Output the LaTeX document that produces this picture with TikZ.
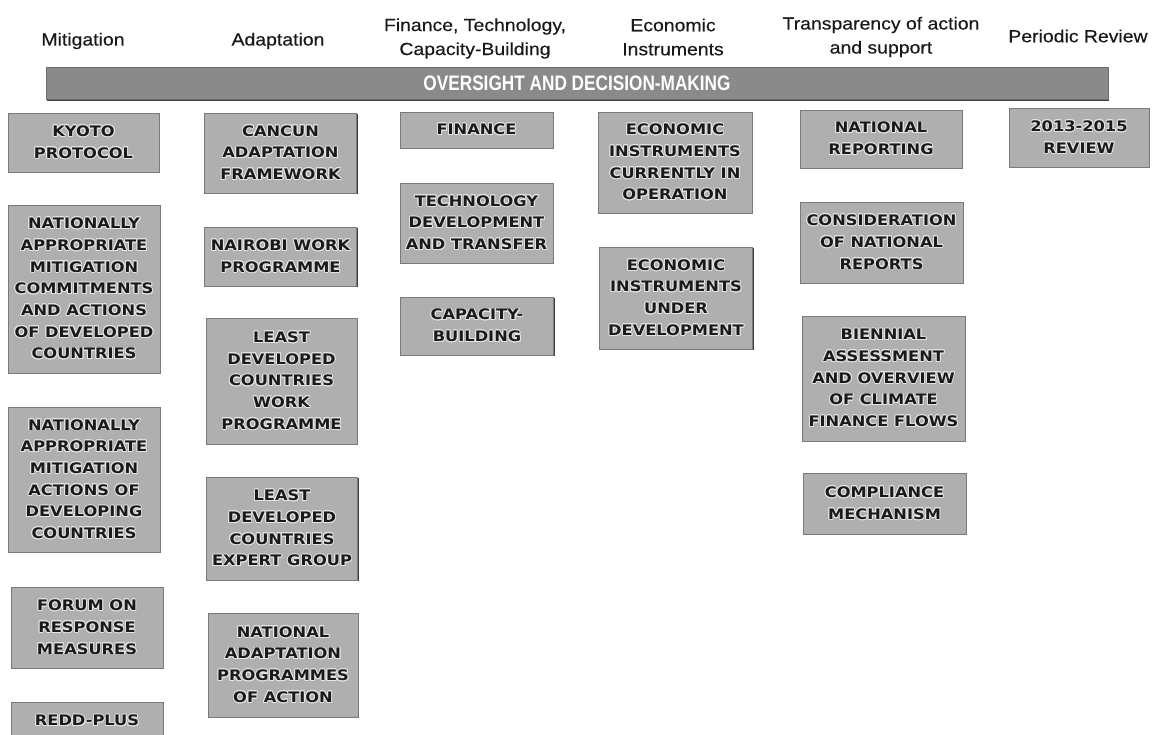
\documentclass[tikz,border=0pt]{standalone}
\usepackage{fontspec}
\setmainfont{Liberation Sans}
\newfontfamily\hdrfont[FakeStretch=1.11,FakeBold=0.3]{Liberation Sans}
\newfontfamily\barfont[FakeStretch=0.82]{Liberation Sans}
\newfontfamily\boxfont[FakeStretch=1.12]{DejaVu Sans}
\usepackage{contour}
\contourlength{0.9pt}
\contournumber{16}
\usetikzlibrary{shadows}

\definecolor{boxfill}{HTML}{AFAFAF}
\definecolor{boxline}{HTML}{7A7A7A}
\definecolor{boxshadow}{HTML}{404040}
\definecolor{barfill}{HTML}{8A8A8A}
\definecolor{boxtext}{HTML}{1A1A1A}
\definecolor{halo}{HTML}{E4E4E4}

\newcommand{\hl}[1]{\contour{halo}{#1}}

\tikzset{
  box/.style={draw=boxline, line width=0.8pt, fill=boxfill, inner sep=0pt,
    align=center, text=boxtext,
    font=\boxfont\bfseries\fontsize{14.5}{21.7}\selectfont,
    drop shadow={shadow xshift=1.3pt, shadow yshift=-1.3pt, fill=boxshadow, opacity=1}},
  hdr/.style={align=center, inner sep=0pt, text=black!90,
    font=\hdrfont\fontsize{17.5}{24}\selectfont},
  barbox/.style={draw=barfill!80!black, line width=0.8pt, fill=barfill, inner sep=0pt,
    text=white, font=\barfont\bfseries\fontsize{21}{24}\selectfont,
    drop shadow={shadow xshift=1.3pt, shadow yshift=-1.5pt, fill=boxshadow, opacity=1}}
}

\begin{document}
\begin{tikzpicture}[x=1pt, y=-1pt]
\useasboundingbox (0,0) rectangle (1157,734);
\fill[white] (0,0) rectangle (1157,734);
\clip (0,0) rectangle (1157,734);

% headers
\node[hdr] (hmit) at (83,41) {Mitigation};
\node[hdr] (hada) at (278,41) {Adaptation};
\node[hdr] (hfin) at (475,38.5) {Finance, Technology,\\Capacity-Building};
\node[hdr] (heco) at (673,37) {Economic\\Instruments};
\node[hdr] (htra) at (881,37) {Transparency of action\\and support};
\node[hdr] (hrev) at (1078,36) {Periodic Review};

% oversight bar
\node[barbox, minimum width=1062pt, minimum height=32pt] (bar) at (577,83) {OVERSIGHT AND DECISION-MAKING};

% Mitigation
\node[box, minimum width=151pt, minimum height=59pt] (kyoto) at (83.5,142.5) {\hl{KYOTO}\\\hl{PROTOCOL}};
\node[box, minimum width=152pt, minimum height=168pt] (namadev) at (84,289) {\hl{NATIONALLY}\\\hl{APPROPRIATE}\\\hl{MITIGATION}\\\hl{COMMITMENTS}\\\hl{AND ACTIONS}\\\hl{OF DEVELOPED}\\\hl{COUNTRIES}};
\node[box, minimum width=152pt, minimum height=145pt] (namading) at (84,479.5) {\hl{NATIONALLY}\\\hl{APPROPRIATE}\\\hl{MITIGATION}\\\hl{ACTIONS OF}\\\hl{DEVELOPING}\\\hl{COUNTRIES}};
\node[box, minimum width=152pt, minimum height=81pt] (forum) at (87,627.5) {\hl{FORUM ON}\\\hl{RESPONSE}\\\hl{MEASURES}};
\node[box, minimum width=152pt, minimum height=38pt] (redd) at (87,721) {\hl{REDD-PLUS}};

% Adaptation
\node[box, minimum width=152pt, minimum height=80pt] (cancun) at (280.5,153) {\hl{CANCUN}\\\hl{ADAPTATION}\\\hl{FRAMEWORK}};
\node[box, minimum width=152pt, minimum height=59pt] (nairobi) at (280.5,256.5) {\hl{NAIROBI WORK}\\\hl{PROGRAMME}};
\node[box, minimum width=151pt, minimum height=126pt] (ldcwp) at (281.5,381) {\hl{LEAST}\\\hl{DEVELOPED}\\\hl{COUNTRIES}\\\hl{WORK}\\\hl{PROGRAMME}};
\node[box, minimum width=151pt, minimum height=103pt] (ldceg) at (282,528.5) {\hl{LEAST}\\\hl{DEVELOPED}\\\hl{COUNTRIES}\\\hl{EXPERT GROUP}};
\node[box, minimum width=150pt, minimum height=104pt] (napa) at (283,665) {\hl{NATIONAL}\\\hl{ADAPTATION}\\\hl{PROGRAMMES}\\\hl{OF ACTION}};

% Finance, Technology, Capacity-Building
\node[box, minimum width=153pt, minimum height=36pt] (finance) at (476.5,130) {\hl{FINANCE}};
\node[box, minimum width=153pt, minimum height=80pt] (tech) at (476.5,223) {\hl{TECHNOLOGY}\\\hl{DEVELOPMENT}\\\hl{AND TRANSFER}};
\node[box, minimum width=153pt, minimum height=58pt] (capb) at (477,326) {\hl{CAPACITY-}\\\hl{BUILDING}};

% Economic Instruments
\node[box, minimum width=154pt, minimum height=101pt] (eccur) at (675,162.5) {\hl{ECONOMIC}\\\hl{INSTRUMENTS}\\\hl{CURRENTLY IN}\\\hl{OPERATION}};
\node[box, minimum width=153pt, minimum height=102pt] (ecdev) at (676,298) {\hl{ECONOMIC}\\\hl{INSTRUMENTS}\\\hl{UNDER}\\\hl{DEVELOPMENT}};

% Transparency
\node[box, minimum width=162pt, minimum height=58pt] (natrep) at (881,139) {\hl{NATIONAL}\\\hl{REPORTING}};
\node[box, minimum width=163pt, minimum height=81pt] (cons) at (881.5,242.5) {\hl{CONSIDERATION}\\\hl{OF NATIONAL}\\\hl{REPORTS}};
\node[box, minimum width=163pt, minimum height=125pt] (bien) at (883.5,378.5) {\hl{BIENNIAL}\\\hl{ASSESSMENT}\\\hl{AND OVERVIEW}\\\hl{OF CLIMATE}\\\hl{FINANCE FLOWS}};
\node[box, minimum width=163pt, minimum height=61pt] (comp) at (884.5,503.5) {\hl{COMPLIANCE}\\\hl{MECHANISM}};

% Periodic Review
\node[box, minimum width=140pt, minimum height=59pt] (review) at (1079,137.5) {\hl{2013-2015}\\\hl{REVIEW}};
\end{tikzpicture}
\end{document}
